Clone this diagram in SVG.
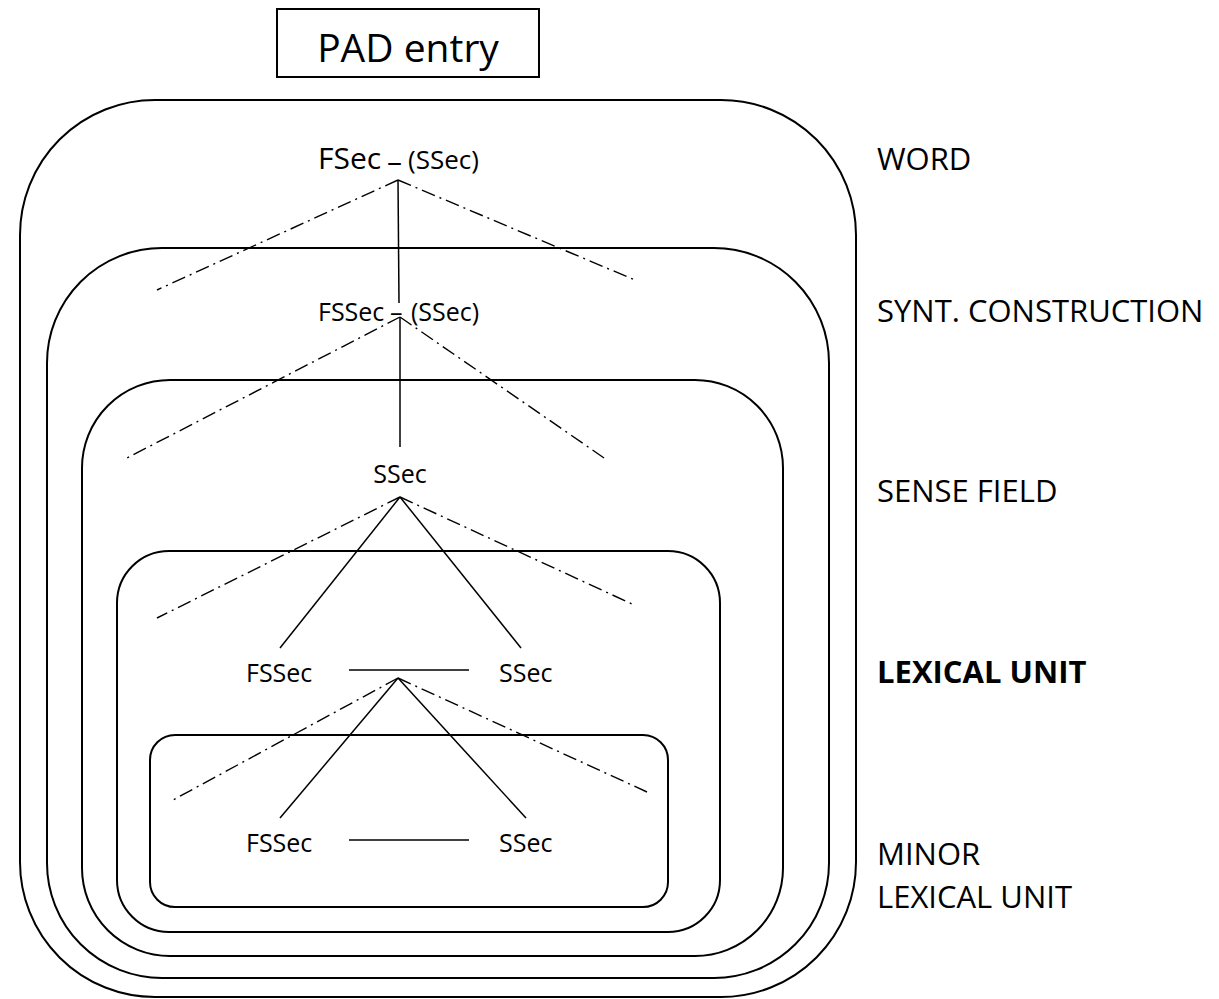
<svg xmlns="http://www.w3.org/2000/svg" width="1219" height="999" viewBox="0 0 1219 999">
  <style>
    .frame { fill: none; stroke: #000; stroke-width: 2; }
    .solid { fill: none; stroke: #000; stroke-width: 1.5; }
    .dashdot { fill: none; stroke: #000; stroke-width: 1.4; stroke-dasharray: 14 5 2 5; }
    text { font-family: "Open Sans", "Noto Sans", sans-serif; fill: #000; }
    .lvl { font-size: 31px; }
    .node { font-size: 25px; }
  </style>
  <rect width="1219" height="999" fill="#fff"/>

  <!-- header box -->
  <g id="pad-entry">
    <rect x="277" y="9" width="262" height="68" fill="#fff" stroke="#000" stroke-width="2"/>
    <text x="408" y="62" font-size="39" text-anchor="middle">PAD entry</text>
  </g>

  <!-- nested scopes, outermost first -->
  <g id="scope-word"><rect class="frame" x="20" y="100" width="836" height="897" rx="135" ry="135"/></g>
  <g id="scope-synt"><rect class="frame" x="47" y="248" width="782" height="730" rx="115" ry="115"/></g>
  <g id="scope-sense"><rect class="frame" x="82" y="380" width="701" height="576" rx="88" ry="88"/></g>
  <g id="scope-lexical"><rect class="frame" x="117" y="551" width="603" height="381" rx="52" ry="52"/></g>
  <g id="scope-minor"><rect class="frame" x="150" y="735" width="518" height="172" rx="25" ry="25"/></g>

  <!-- level labels -->
  <g id="labels">
    <text class="lvl" x="877" y="170">WORD</text>
    <text class="lvl" x="877" y="322">SYNT. CONSTRUCTION</text>
    <text class="lvl" x="877" y="502">SENSE FIELD</text>
    <text class="lvl" x="877" y="683" font-weight="bold">LEXICAL UNIT</text>
    <text class="lvl" x="877" y="865">MINOR</text>
    <text class="lvl" x="877" y="908">LEXICAL UNIT</text>
  </g>

  <!-- tree nodes -->
  <g id="node-fsec">
    <text y="169"><tspan x="318" font-size="30">FSec</tspan><tspan x="387" y="172" font-size="30">–</tspan><tspan x="408" y="169" font-size="26">(SSec)</tspan></text>
  </g>
  <g id="node-fssec-1">
    <text class="node" y="321"><tspan x="318">FSSec</tspan><tspan x="390">–</tspan><tspan x="411">(SSec)</tspan></text>
  </g>
  <g id="node-ssec-1"><text class="node" x="400" y="483" text-anchor="middle">SSec</text></g>
  <g id="node-fssec-2"><text class="node" x="246" y="682">FSSec</text></g>
  <g id="node-ssec-2"><text class="node" x="499" y="682">SSec</text></g>
  <g id="node-fssec-3"><text class="node" x="246" y="852">FSSec</text></g>
  <g id="node-ssec-3"><text class="node" x="499" y="852">SSec</text></g>

  <!-- connectors -->
  <g id="connectors">
    <line class="solid" x1="398" y1="180" x2="399" y2="303"/>
    <line class="solid" x1="400" y1="317" x2="400" y2="447"/>
    <line class="dashdot" x1="398" y1="180" x2="157" y2="290"/>
    <line class="dashdot" x1="398" y1="180" x2="635" y2="280"/>
    <line class="dashdot" x1="400" y1="317" x2="127" y2="458"/>
    <line class="dashdot" x1="400" y1="317" x2="607" y2="460"/>

    <line class="solid" x1="400" y1="497" x2="280" y2="648"/>
    <line class="solid" x1="400" y1="497" x2="521" y2="648"/>
    <line class="dashdot" x1="400" y1="497" x2="157" y2="618"/>
    <line class="dashdot" x1="400" y1="497" x2="632" y2="604"/>

    <line class="solid" x1="349" y1="670" x2="469" y2="670"/>
    <line class="solid" x1="398" y1="678" x2="280" y2="818"/>
    <line class="solid" x1="398" y1="678" x2="526" y2="818"/>
    <line class="dashdot" x1="398" y1="678" x2="173" y2="800"/>
    <line class="dashdot" x1="398" y1="678" x2="647" y2="792"/>

    <line class="solid" x1="349" y1="840" x2="469" y2="840"/>
  </g>
</svg>
